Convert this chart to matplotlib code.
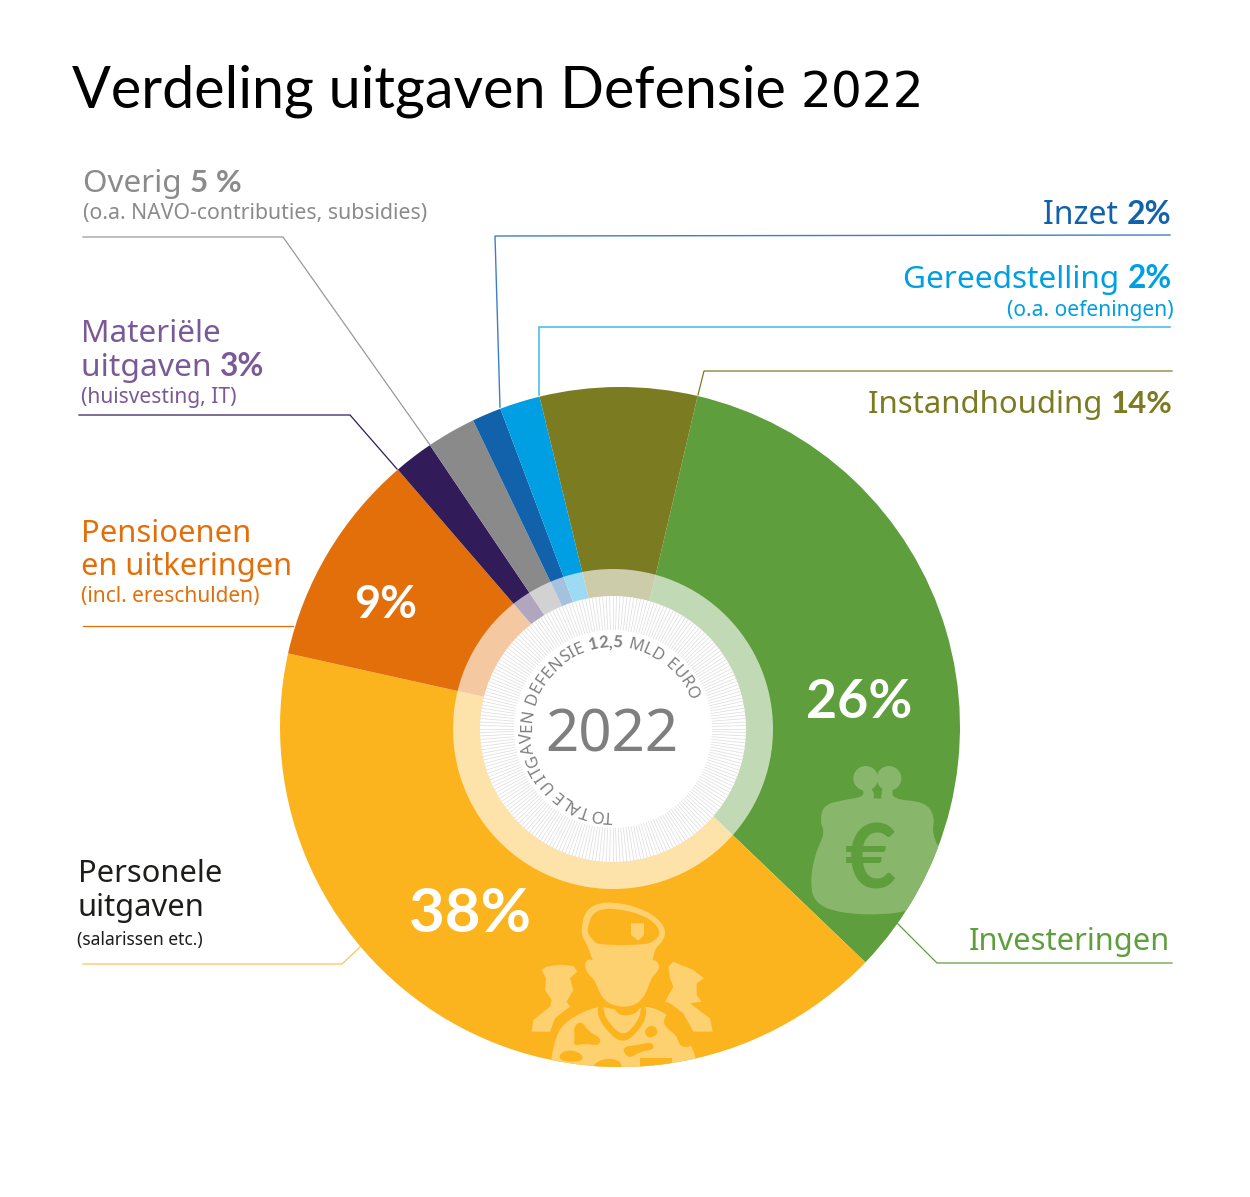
import numpy as np
import matplotlib
matplotlib.use("Agg")
import matplotlib.pyplot as plt
from matplotlib.patches import Circle, PathPatch, Polygon
from matplotlib.path import Path

W, H = 1250, 1197
FONT = "Noto Sans"
BOLD = "Lato"

# sizes as drawn in the picture (degrees), the printed percentages are not to scale
slice_names = ["Investeringen", "Personele uitgaven", "Pensioenen", "Materiele",
               "Overig", "Inzet", "Gereedstelling", "Instandhouding"]
slice_sizes = [120.6, 148.7, 36.7, 6.8, 8.4, 5.0, 6.9, 26.9]
slice_colors = ["#5f9e3c", "#fbb41e", "#e36f0b", "#311b58",
                "#8a8a8a", "#1261ab", "#009fe3", "#7b7b22"]

GREY = "#8b8b8b"
PURPLE = "#7a5a96"
ORANGE = "#e36f0b"
DARK = "#1d1d1b"
BLUE = "#1261ab"
CYAN = "#009fe3"
OLIVE = "#7b7b22"
GREEN = "#5f9e3c"

plt.rcParams["font.family"] = [FONT, "DejaVu Sans"]

fig = plt.figure(figsize=(W / 100, H / 100), dpi=100)
ax = fig.add_axes([0, 0, 1, 1])


def Y(y):
    return H - y


cx, cy, R = 620, 727, 340
wedges, _ = ax.pie(slice_sizes, colors=slice_colors, startangle=76.8, counterclock=False,
                   center=(cx, Y(cy)), radius=R, frame=True,
                   wedgeprops=dict(linewidth=0))
ax.set_xlim(0, W)
ax.set_ylim(0, H)
ax.set_aspect("equal")
ax.axis("off")
renderer = fig.canvas.get_renderer()


def fam(wt, family=None):
    if family:
        return family
    return BOLD if wt == "bold" else FONT


def advance(s, size, wt="normal", family=None):
    # x on both sides so that spaces count too
    a = ax.text(0, 0, "x" + s + "x", fontsize=size, fontweight=wt, family=fam(wt, family))
    b = ax.text(0, 0, "xx", fontsize=size, fontweight=wt, family=fam(wt, family))
    w = a.get_window_extent(renderer).width - b.get_window_extent(renderer).width
    a.remove()
    b.remove()
    return w


def label(runs, x0, x1, base, color, z=6, family=None):
    # runs of (string, weight), font size is scaled so the line runs from x0 to x1
    total = sum(advance(s, 20, wt, family) for s, wt in runs)
    size = 20 * (x1 - x0) / total
    x = x0
    for s, wt in runs:
        ax.text(x, Y(base), s, fontsize=size, fontweight=wt, color=color, family=fam(wt, family),
                ha="left", va="baseline", zorder=z)
        x += advance(s, size, wt, family)


def poly(pts, ox, oy, color, z=3, clip=None, smooth=True):
    pts = [(ox + px / 3, Y(oy + py / 3)) for px, py in pts]
    if smooth:
        n = len(pts)
        mids = [((pts[i][0] + pts[(i + 1) % n][0]) / 2, (pts[i][1] + pts[(i + 1) % n][1]) / 2)
                for i in range(n)]
        verts = [mids[-1]]
        codes = [Path.MOVETO]
        for i in range(n):
            verts += [pts[i], mids[i]]
            codes += [Path.CURVE3, Path.CURVE3]
        p = PathPatch(Path(verts, codes), fc=color, ec="none", zorder=z)
    else:
        p = Polygon(pts, closed=True, fc=color, ec="none", zorder=z)
    ax.add_patch(p)
    if clip is not None:
        p.set_clip_path(clip)
    return p


clip_circle = Circle((cx, Y(cy)), R, transform=ax.transData)

# soldier icon
LIGHT = "#fdd070"
YEL = slice_colors[1]
ox, oy = 520, 890
left_man = [(65, 240), (80, 230), (120, 224), (160, 228), (172, 245), (150, 265), (160, 300),
            (140, 335), (150, 350), (105, 385), (90, 425), (35, 425), (40, 390), (90, 350),
            (95, 330), (75, 300), (78, 265)]
right_man = [(445, 230), (460, 215), (520, 240), (552, 265), (530, 280), (530, 315), (545, 335),
             (510, 340), (570, 385), (578, 425), (520, 425), (490, 370), (450, 340), (435, 335),
             (460, 290), (450, 265)]
body = [(85, 560), (105, 440), (140, 390), (235, 345), (285, 360), (345, 365), (375, 345),
        (440, 370), (490, 420), (530, 500), (530, 560)]
beret_out = [(185, 110), (195, 65), (230, 40), (280, 36), (350, 50), (410, 80), (442, 125),
             (420, 165), (405, 175), (395, 225), (380, 230), (385, 170), (235, 165), (235, 225),
             (220, 220), (205, 170), (185, 140)]
beret_in = [(203, 115), (215, 72), (250, 55), (300, 58), (360, 72), (405, 98), (422, 130),
            (405, 152), (375, 165), (235, 165), (220, 152), (203, 130)]
badge = [(333, 100), (372, 100), (372, 135), (355, 152), (333, 135)]
face = [(235, 165), (385, 170), (385, 225), (400, 205), (420, 225), (410, 250), (395, 260),
        (375, 320), (340, 350), (285, 350), (245, 325), (225, 270), (205, 255), (192, 225),
        (205, 205), (220, 215)]
collar = [(230, 350), (250, 345), (255, 385), (310, 445), (360, 385), (362, 350), (378, 345),
          (378, 395), (310, 470), (240, 400)]
shadow = [(140, 390), (95, 420), (105, 385), (150, 350), (165, 360)]
shadow2 = [(440, 370), (495, 420), (505, 400), (460, 340)]
chin = [(280, 348), (345, 345), (365, 350), (340, 376), (295, 376)]
blots = [
    [(160, 410), (185, 392), (205, 425), (245, 445), (235, 468), (195, 460), (160, 468), (165, 440)],
    [(115, 495), (145, 478), (185, 490), (190, 515), (125, 515)],
    [(220, 520), (265, 503), (305, 515), (305, 545), (220, 545)],
    [(310, 470), (355, 465), (395, 455), (405, 478), (360, 485), (330, 505), (312, 490)],
    [(370, 420), (400, 402), (418, 430), (385, 448)],
    [(430, 385), (455, 360), (505, 430), (520, 470), (480, 472), (470, 435), (435, 412)],
]
for pts in (left_man, right_man):
    poly(pts, ox, oy, LIGHT, 3, clip_circle, smooth=False)
poly(body, ox, oy, LIGHT, 3, clip_circle)
for pts in (shadow, shadow2, collar, chin):
    poly(pts, ox, oy, YEL, 4, clip_circle)
for pts in blots:
    poly(pts, ox, oy, YEL, 4, clip_circle)
poly([(360, 505), (455, 505), (455, 560), (360, 560)], ox, oy, YEL, 4, clip_circle, smooth=False)
poly(beret_out, ox, oy, LIGHT, 4)
poly(beret_in, ox, oy, YEL, 5)
poly(badge, ox, oy, LIGHT, 6, smooth=False)
poly(face, ox, oy, LIGHT, 5)

# purse icon
PURSE = "#88b76c"
ox, oy = 800, 750
purse = [(60, 215), (70, 165), (130, 150), (195, 140), (185, 110), (215, 110), (225, 145), (245, 145),
         (245, 110), (280, 110), (275, 148), (375, 155), (405, 200), (395, 250), (430, 320),
         (420, 420), (340, 480), (250, 495), (120, 490), (45, 460), (30, 400), (45, 310), (75, 250)]
poly(purse, ox, oy, PURSE, 3, clip_circle)
for px, py in [(197, 85), (267, 85)]:
    ax.add_patch(Circle((ox + px / 3, Y(oy + py / 3)), 37 / 3, fc=PURSE, ec="none", zorder=3))
poly([(232, 110), (245, 145), (220, 145)], ox, oy, slice_colors[0], 4, smooth=False)
ax.text(ox + 213 / 3, Y(oy + 415 / 3), "€", fontsize=64, fontweight="bold", color=slice_colors[0],
        family=BOLD, ha="center", va="baseline", zorder=5)

# centre of the donut
rx, ry = 613, 729
ax.add_patch(Circle((rx, Y(ry)), 160, fc="white", ec="none", alpha=0.62, zorder=7))
ax.add_patch(Circle((rx, Y(ry)), 133, fc="white", ec="none", zorder=8))
for a in np.radians(np.arange(0, 360, 1.5)):
    ax.plot([rx + 99 * np.sin(a), rx + 133 * np.sin(a)],
            [Y(ry) + 99 * np.cos(a), Y(ry) + 133 * np.cos(a)],
            color="#dcdcdc", lw=0.5, zorder=9)
ax.add_patch(Circle((rx, Y(ry)), 99, fc="white", ec="none", zorder=10))

ax.text(612, Y(751), "2022", fontsize=42, color="#7f7f7f", ha="center", va="baseline", zorder=11)

ring_parts = [("TOTALE UITGAVEN DEFENSIE ", "normal"), ("12,5", "bold"), (" MLD EURO", "normal")]
ring_size = 12
chars = [(c, wt) for s, wt in ring_parts for c in s]
adv = [advance(c, ring_size, wt) for c, wt in chars]
span = 250.0
scale = span / sum(adv)
pos = 180.0
for (c, wt), w in zip(chars, adv):
    th = pos + w * scale / 2
    a = np.radians(th)
    ax.text(rx + 82 * np.sin(a), Y(ry) + 82 * np.cos(a), c, fontsize=ring_size, fontweight=wt,
            family=fam(wt), color="#7f7f7f", rotation=-th, rotation_mode="anchor",
            ha="center", va="baseline", zorder=11)
    pos += w * scale

# leader lines
lines = [
    ([83, 283, 430], [237, 237, 445], "#9a9a9a", 0.9),
    ([79, 350, 397], [415, 415, 469], slice_colors[3], 0.9),
    ([83, 293], [626, 626], ORANGE, 0.9),
    ([83, 342, 360], [964, 964, 947], "#fbc458", 0.9),
    ([1170, 495, 500], [235, 236, 407], "#3d7fc4", 1.0),
    ([1170, 539, 539], [327, 327, 395], "#4dbfe9", 1.2),
    ([1172, 704, 698], [371, 371, 395], OLIVE, 0.9),
    ([1172, 937, 897], [963, 963, 923], GREEN, 0.9),
]
for xs, ys, col, lw in lines:
    ax.plot(xs, [Y(v) for v in ys], color=col, lw=lw, zorder=2, solid_joinstyle="miter")

# title
label([("Verdeling uitgaven Defensie", "normal")], 72, 790, 108, "black", family="Lato")
ax.text(801, Y(108), "2022", fontsize=35, color="black", ha="left", va="baseline", zorder=6,
        family="DejaVu Sans")

# labels
label([("Overig ", "normal"), ("5 %", "bold")], 83, 242, 192, GREY)
label([("(o.a. NAVO-contributies, subsidies)", "normal")], 83, 427, 219, GREY)
label([("Materiële", "normal")], 81, 221, 342, PURPLE)
label([("uitgaven ", "normal"), ("3%", "bold")], 81, 264, 376, PURPLE)
label([("(huisvesting, IT)", "normal")], 81, 236, 403, PURPLE)
label([("Pensioenen", "normal")], 81, 251, 542, ORANGE)
label([("en uitkeringen", "normal")], 81, 292, 575, ORANGE)
label([("(incl. ereschulden)", "normal")], 81, 259, 602, ORANGE)
label([("Personele", "normal")], 78, 222, 882, DARK)
label([("uitgaven", "normal")], 78, 205, 916, DARK)
label([("(salarissen etc.)", "normal")], 77, 203, 945, DARK)
label([("Inzet ", "normal"), ("2%", "bold")], 1043, 1171, 224, BLUE)
label([("Gereedstelling ", "normal"), ("2%", "bold")], 903, 1172, 288, CYAN)
label([("(o.a. oefeningen)", "normal")], 1007, 1173, 316, CYAN)
label([("Instandhouding ", "normal"), ("14%", "bold")], 868, 1172, 413, OLIVE)
label([("Investeringen", "normal")], 969, 1170, 950, GREEN)

# percentages on the slices
label([("9%", "bold")], 354, 417, 618, "white")
label([("26%", "bold")], 806, 912, 718, "white")
label([("38%", "bold")], 409, 531, 932, "white")

fig.savefig("out.png", dpi=100, facecolor="white")
